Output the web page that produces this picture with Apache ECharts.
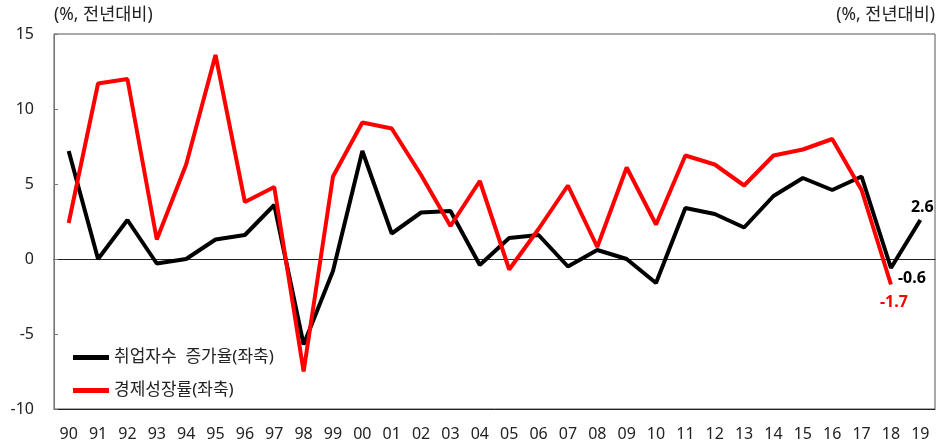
<!DOCTYPE html>
<html>
<head>
<meta charset="utf-8">
<script src="https://cdn.jsdelivr.net/npm/echarts@6/dist/echarts.min.js"></script>
<style>
  html, body { margin: 0; padding: 0; background: #fff; }
  #chart { width: 936px; height: 444px; }
</style>
</head>
<body>
<div id="chart"></div>
<script>
// 연도 (x축)
var years = ['90', '91', '92', '93', '94', '95', '96', '97', '98', '99',
             '00', '01', '02', '03', '04', '05', '06', '07', '08', '09',
             '10', '11', '12', '13', '14', '15', '16', '17', '18', '19'];
// 취업자수 증가율
var employment = [7.2, 0.0, 2.6, -0.3, 0.0, 1.3, 1.6, 3.6, -5.7, -0.8,
                  7.2, 1.7, 3.1, 3.2, -0.4, 1.4, 1.6, -0.5, 0.6, 0.0,
                  -1.6, 3.4, 3.0, 2.1, 4.2, 5.4, 4.6, 5.5, -0.6, 2.6];
// 경제성장률 (19년 없음)
var gdp = [2.4, 11.7, 12.0, 1.3, 6.3, 13.6, 3.8, 4.8, -7.5, 5.5,
           9.1, 8.7, 5.6, 2.2, 5.2, -0.7, 2.0, 4.9, 0.8, 6.1,
           2.3, 6.9, 6.3, 4.9, 6.9, 7.3, 8.0, 4.6, -1.7, null];
// y축 눈금
var yTicks = { min: -10, max: 15, step: 5 };
var unitText = '(%, 전년대비)';

var FONT = '"Noto Sans", "Noto Sans CJK KR", sans-serif';

// 끝부분 값 라벨
function endLabel(pos, offset, color) {
    return {
        show: true,
        position: pos,
        distance: 5,
        offset: offset,
        color: color,
        fontFamily: FONT,
        fontSize: 16,
        fontWeight: 'bold',
        formatter: function (p) { return Number(p.value).toFixed(1); }
    };
}

var chart = echarts.init(document.getElementById('chart'));

var empData = employment.map(function (v, i) {
    var d = { value: v };
    if (i === 28) d.label = endLabel('right', [2, 10], '#000');
    if (i === 29) d.label = endLabel('top', [2, 0], '#000');
    return d;
});
var gdpData = gdp.map(function (v, i) {
    var d = { value: v };
    if (i === 28) d.label = endLabel('bottom', [3, 5], '#ff0000');
    return d;
});

var option = {
    animation: false,
    backgroundColor: '#fff',
    textStyle: { fontFamily: FONT },
    grid: {
        left: 54, right: 1, top: 34, bottom: 35,
        show: true, borderColor: '#555', borderWidth: 1
    },
    legend: {
        orient: 'vertical',
        left: 68, top: 342,
        itemWidth: 36, itemHeight: 5,
        itemGap: 12,
        icon: 'rect',
        textStyle: { fontFamily: FONT, fontSize: 17, color: '#222', lineHeight: 21 },
        data: ['취업자수  증가율(좌축)', '경제성장률(좌축)']
    },
    xAxis: [{
        type: 'category',
        data: years,
        boundaryGap: true,
        axisLine: { onZero: true, lineStyle: { color: '#222', width: 1 } },
        axisTick: { inside: true, length: 5, lineStyle: { color: '#222' } },
        axisLabel: { show: false }
    }, {
        type: 'category',
        data: years,
        position: 'bottom',
        axisLine: { onZero: false, lineStyle: { color: '#222', width: 1 } },
        axisTick: { show: false },
        axisLabel: { fontFamily: FONT, fontSize: 16, color: '#222', margin: 17 }
    }],
    yAxis: {
        type: 'value',
        min: yTicks.min, max: yTicks.max, interval: yTicks.step,
        axisLine: { show: true, lineStyle: { color: '#777' } },
        axisTick: { show: true, inside: true, length: 4, lineStyle: { color: '#777' } },
        axisLabel: { fontFamily: FONT, fontSize: 16, color: '#222', margin: 20 },
        splitLine: { show: false }
    },
    graphic: [{
        type: 'text', left: 54, top: 6,
        style: { text: unitText, font: '17.5px ' + FONT, fill: '#222' }
    }, {
        type: 'text', right: 1, top: 6,
        style: { text: unitText, font: '17.5px ' + FONT, fill: '#222' }
    }],
    series: [{
        name: '취업자수  증가율(좌축)',
        type: 'line',
        data: empData,
        symbol: 'circle',
        symbolSize: 0,
        color: '#000',
        lineStyle: { color: '#000', width: 4 },
        label: { show: false }
    }, {
        name: '경제성장률(좌축)',
        type: 'line',
        data: gdpData,
        symbol: 'circle',
        symbolSize: 0,
        color: '#ff0000',
        lineStyle: { color: '#ff0000', width: 4 },
        label: { show: false }
    }]
};

chart.setOption(option);
</script>
</body>
</html>
